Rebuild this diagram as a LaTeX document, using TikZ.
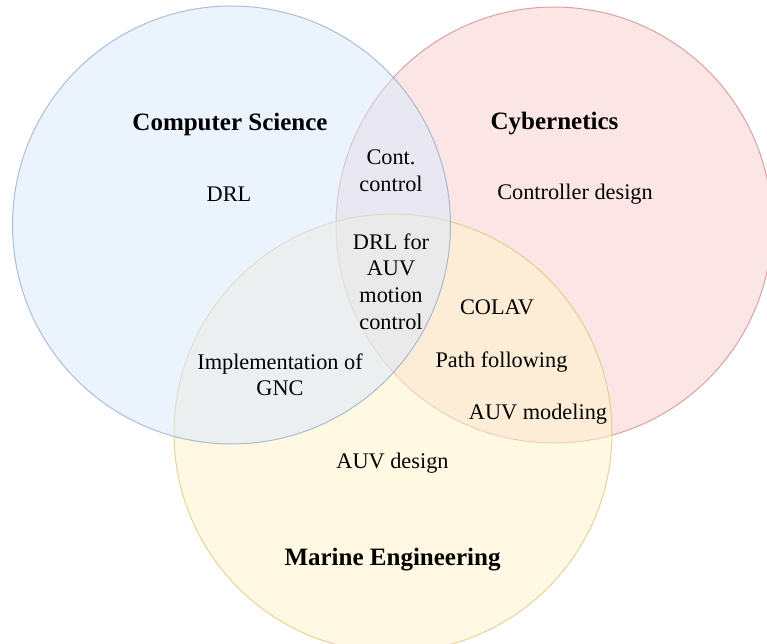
\documentclass[tikz,border=0pt]{standalone}
\usepackage{fontspec}
\setmainfont{Liberation Serif}
\tikzset{
  setcircle/.style={line width=1pt},
  lbl/.style={anchor=base, inner sep=0pt, font=\fontsize{22.3}{26.7}\selectfont},
  title/.style={anchor=base, inner sep=0pt, font=\fontsize{25}{30}\selectfont\bfseries},
}
\definecolor{blueFill}{HTML}{DAE8FC}
\definecolor{blueLine}{HTML}{6C8EBF}
\definecolor{redFill}{HTML}{F8CECC}
\definecolor{redLine}{HTML}{B85450}
\definecolor{yellowFill}{HTML}{FFF2CC}
\definecolor{yellowLine}{HTML}{D6B656}
\newcommand{\lines}[1]{\begin{tabular}[t]{@{}c@{}}#1\end{tabular}}
\begin{document}
\begin{tikzpicture}[x=1pt, y=-1pt]
  \useasboundingbox (0,0) rectangle (767,644);
  \clip (0,0) rectangle (767,644);

  % the three sets, drawn back to front
  \draw[setcircle, fill=redFill, draw=redLine, fill opacity=0.5, draw opacity=0.5]
    (554,225) circle[radius=218];
  \draw[setcircle, fill=yellowFill, draw=yellowLine, fill opacity=0.57, draw opacity=0.57]
    (393,433) circle[radius=219];
  \draw[setcircle, fill=blueFill, draw=blueLine, fill opacity=0.54, draw opacity=0.54]
    (231.5,225) circle[radius=219];

  % set names
  \node[title] (cs)  at (230,131)   {Computer Science};
  \node[title] (cyb) at (554.5,130) {Cybernetics};
  \node[title] (me)  at (392.5,565) {Marine Engineering};

  % topics
  \node[lbl] (drl)   at (229,201)   {DRL};
  \node[lbl] (ctrl)  at (575,200)   {Controller design};
  \node[lbl] (cont)  at (391,165)   {\lines{Cont.\\control}};
  \node[lbl] (core)  at (391,249)   {\lines{DRL for\\AUV\\motion\\control}};
  \node[lbl] (gnc)   at (280,369)   {\lines{Implementation of\\GNC}};
  \node[lbl] (colav) at (497,314)   {COLAV};
  \node[lbl] (path)  at (501.5,367) {Path following};
  \node[lbl] (model) at (538,419)   {AUV modeling};
  \node[lbl] (des)   at (392.5,468) {AUV design};
\end{tikzpicture}
\end{document}
